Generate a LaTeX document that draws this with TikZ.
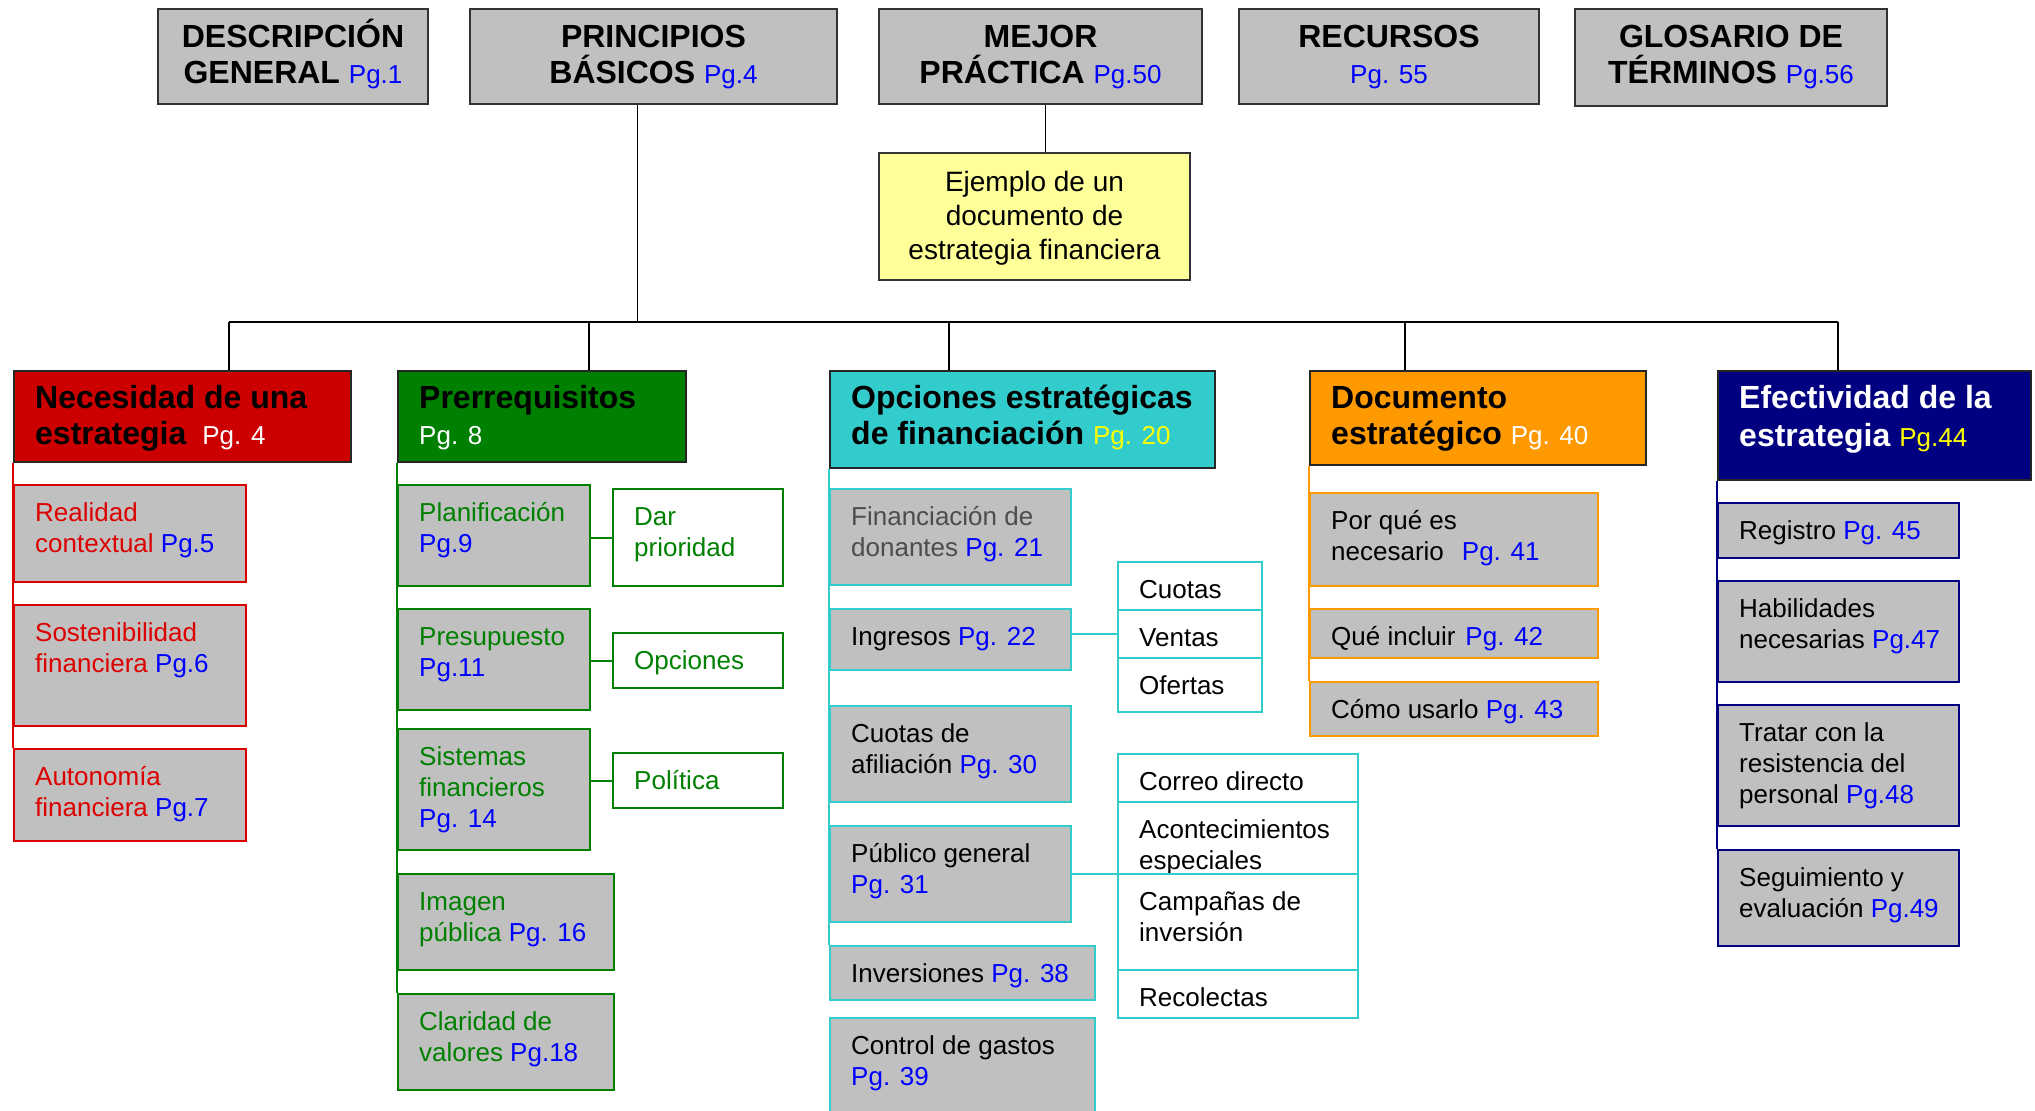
\documentclass[tikz,border=0pt]{standalone}
\usepackage{fontspec}
\setmainfont{Liberation Sans}

\definecolor{boxgray}{HTML}{C0C0C0}
\definecolor{hred}{HTML}{CC0000}
\definecolor{sred}{HTML}{DD0000}
\definecolor{hgreen}{HTML}{008000}
\definecolor{hcyan}{HTML}{33CCCC}
\definecolor{horange}{HTML}{FF9900}
\definecolor{hnavy}{HTML}{000080}
\definecolor{pgblue}{HTML}{0000FF}
\definecolor{pgyellow}{HTML}{FFFF00}
\definecolor{lightyel}{HTML}{FFFF99}
\definecolor{dgray}{HTML}{4D4D4D}

\newcommand\fstrut{\rule{0pt}{0.96em}}
\newcommand\pg[1]{{\color{pgblue}#1}}
\newcommand\hpg[2]{{\mdseries\fontsize{26bp}{31bp}\selectfont\color{#1}#2}}

\tikzset{
  conn/.style={line width=1.6bp, black},
  spine/.style={line width=2bp, draw=#1},
  topbox/.style={draw=black!80, line width=2bp, fill=boxgray, anchor=north west, minimum height=95bp},
  toptxt/.style={anchor=north, align=center, inner ysep=9bp, font={\fontsize{32bp}{35.5bp}\selectfont\bfseries}},
  headbox/.style={draw=black!85, line width=2bp, anchor=north west},
  headtxt/.style={anchor=north west, align=left, inner xsep=22bp, inner ysep=8bp, font={\fontsize{32bp}{35.5bp}\selectfont\bfseries}},
  subbox/.style={draw=#1, line width=2bp, fill=boxgray, anchor=north west},
  cellbox/.style={draw=#1, line width=2bp, fill=white, anchor=north west},
  subtxt/.style={anchor=north west, align=left, inner xsep=22bp, inner ysep=12.5bp, font={\fontsize{26bp}{31bp}\selectfont}}
}

\begin{document}
\begin{tikzpicture}[x=1bp, y=-1bp]
  \useasboundingbox (0,0) rectangle (2035,1110);

  % top row
  \node[topbox, minimum width=270bp, label={[toptxt]north:{\fstrut DESCRIPCIÓN\\GENERAL \hpg{pgblue}{Pg.1}}}] (desc) at (157,8) {};
  \node[topbox, minimum width=367bp, label={[toptxt]north:{\fstrut PRINCIPIOS\\BÁSICOS \hpg{pgblue}{Pg.4}}}] (prin) at (469,8) {};
  \node[topbox, minimum width=323bp, label={[toptxt]north:{\fstrut MEJOR\\PRÁCTICA \hpg{pgblue}{Pg.50}}}] (mejor) at (878,8) {};
  \node[topbox, minimum width=300bp, label={[toptxt]north:{\fstrut RECURSOS\\\hpg{pgblue}{Pg. 55}}}] (recur) at (1238,8) {};
  \node[topbox, minimum width=312bp, minimum height=97bp, label={[toptxt]north:{\fstrut GLOSARIO DE\\TÉRMINOS \hpg{pgblue}{Pg.56}}}] (glos) at (1574,8) {};

  \node[draw=black!80, line width=2bp, fill=lightyel, anchor=north west, minimum width=311bp, minimum height=127bp,
    label={[anchor=north, align=center, inner ysep=12bp, font={\fontsize{28bp}{34bp}\selectfont}]north:{\fstrut Ejemplo de un\\documento de\\estrategia financiera}}] (yel) at (878,152) {};
  \draw[conn] ([xshift=5bp]mejor.south) -- ([xshift=5bp]mejor.south |- yel.north);

  % headers
  \node[headbox, fill=hred, minimum width=337bp, minimum height=91bp,
    label={[headtxt]north west:{\fstrut Necesidad de una\\estrategia\hspace{16bp}\hpg{white}{Pg. 4}}}] (red) at (13,370) {};
  \node[headbox, fill=hgreen, minimum width=288bp, minimum height=91bp,
    label={[headtxt]north west:{\fstrut Prerrequisitos\\\hpg{white}{Pg. 8}}}] (grn) at (397,370) {};
  \node[headbox, fill=hcyan, minimum width=385bp, minimum height=97bp,
    label={[headtxt]north west:{\fstrut Opciones estratégicas\\de financiación \hpg{pgyellow}{Pg. 20}}}] (cyn) at (829,370) {};
  \node[headbox, fill=horange, minimum width=336bp, minimum height=94bp,
    label={[headtxt]north west:{\fstrut Documento\\estratégico \hpg{white}{Pg. 40}}}] (org) at (1309,370) {};
  \node[headbox, fill=hnavy, minimum width=313bp, minimum height=109bp,
    label={[headtxt, text=white, font={\fontsize{32bp}{38bp}\selectfont\bfseries}]north west:{\fstrut Efectividad de la\\estrategia \hpg{pgyellow}{Pg.44}}}] (nav) at (1717,370) {};

  % bar
  \coordinate (bar1) at (229,322);
  \coordinate (bar2) at (589,322);
  \coordinate (bar3) at (949,322);
  \coordinate (bar4) at (1405,322);
  \coordinate (bar5) at (1838,322);
  \draw[conn] ([xshift=-16bp]prin.south) -- ([xshift=-16bp]prin.south |- bar1);
  \draw[conn] (bar1) -- (bar5);
  \foreach \c/\nm in {bar1/red, bar2/grn, bar3/cyn, bar4/org, bar5/nav}
    \draw[conn] (\c) -- (\c |- \nm.north);

  % red column
  \foreach \nm/\yy/\hh/\lbl in {real/484/97/{Realidad\\contextual \pg{Pg.5}},
      sost/604/121/{Sostenibilidad\\financiera \pg{Pg.6}},
      auto/748/92/{Autonomía\\financiera \pg{Pg.7}}}
    \node[subbox=sred, minimum width=232bp, minimum height=\hh bp,
      label={[subtxt, text=sred]north west:{\fstrut\lbl}}] (\nm) at (13,\yy) {};
  \draw[spine=sred] (red.south west) -- (auto.north west);

  % green column
  \foreach \nm/\yy/\ww/\hh/\lbl in {plan/484/192/101/{Planificación\\\pg{Pg.9}},
      pres/608/192/101/{Presupuesto\\\pg{Pg.11}},
      sist/728/192/121/{Sistemas\\financieros\\\pg{Pg. 14}},
      img/873/216/96/{Imagen\\pública \pg{Pg. 16}},
      clar/993/216/96/{Claridad de\\valores \pg{Pg.18}}}
    \node[subbox=hgreen, minimum width=\ww bp, minimum height=\hh bp,
      label={[subtxt, text=hgreen]north west:{\fstrut\lbl}}] (\nm) at (397,\yy) {};
  \foreach \nm/\yy/\hh/\lbl in {dar/488/97/{Dar\\prioridad}, opc/632/55/{Opciones}, pol/752/55/{Política}}
    \node[cellbox=hgreen, minimum width=170bp, minimum height=\hh bp,
      label={[subtxt, text=hgreen]north west:{\fstrut\lbl}}] (\nm) at (612,\yy) {};
  \draw[spine=hgreen] (grn.south west) -- (clar.north west);
  \draw[spine=hgreen] (dar.west) -- (dar.west -| plan.east);
  \draw[spine=hgreen] (opc.west) -- (opc.west -| pres.east);
  \draw[spine=hgreen] (pol.west) -- (pol.west -| sist.east);

  % cyan column
  \node[subbox=hcyan, minimum width=241bp, minimum height=96bp,
    label={[subtxt, text=dgray]north west:{\fstrut Financiación de\\donantes \pg{Pg. 21}}}] (fin) at (829,488) {};
  \foreach \nm/\yy/\ww/\hh/\lbl in {ing/608/241/61/{Ingresos \pg{Pg. 22}},
      cuaf/705/241/96/{Cuotas de\\afiliación \pg{Pg. 30}},
      pub/825/241/96/{Público general\\\pg{Pg. 31}},
      inv/945/265/54/{Inversiones \pg{Pg. 38}},
      ctrl/1017/265/112/{Control de gastos\\\pg{Pg. 39}}}
    \node[subbox=hcyan, minimum width=\ww bp, minimum height=\hh bp,
      label={[subtxt]north west:{\fstrut\lbl}}] (\nm) at (829,\yy) {};
  \foreach \nm/\yy/\hh/\lbl in {cuo/560.5/48/{Cuotas}, ven/608.5/48/{Ventas}, ofe/656.5/54/{Ofertas}}
    \node[cellbox=hcyan, minimum width=144bp, minimum height=\hh bp,
      label={[subtxt]north west:{\fstrut\lbl}}] (\nm) at (1117,\yy) {};
  \foreach \nm/\yy/\hh/\lbl in {cor/753/48/{Correo directo}, aco/801/72/{Acontecimientos\\especiales},
      cam/873/96/{Campañas de\\inversión}, rec/969/48/{Recolectas}}
    \node[cellbox=hcyan, minimum width=240bp, minimum height=\hh bp,
      label={[subtxt]north west:{\fstrut\lbl}}] (\nm) at (1117,\yy) {};
  \draw[spine=hcyan] (cyn.south west) -- (inv.north west);
  \draw[spine=hcyan] (ven.west) -- (ven.west -| ing.east);
  \draw[spine=hcyan] (pub.east) -- (pub.east -| cam.west);

  % orange column
  \foreach \nm/\yy/\hh/\lbl in {por/492/93/{Por qué es\\necesario\hspace{18bp}\pg{Pg. 41}},
      que/608/49/{Qué incluir\hspace{10bp}\pg{Pg. 42}},
      como/681/54/{Cómo usarlo \pg{Pg. 43}}}
    \node[subbox=horange, minimum width=288bp, minimum height=\hh bp,
      label={[subtxt]north west:{\fstrut\lbl}}] (\nm) at (1309,\yy) {};
  \draw[spine=horange] (org.south west) -- (como.north west);

  % navy column
  \foreach \nm/\yy/\hh/\lbl in {reg/502/55/{Registro \pg{Pg. 45}},
      hab/580/101/{Habilidades\\necesarias \pg{Pg.47}},
      trat/704/121/{Tratar con la\\resistencia del\\personal \pg{Pg.48}},
      seg/849/96/{Seguimiento y\\evaluación \pg{Pg.49}}}
    \node[subbox=hnavy, minimum width=241bp, minimum height=\hh bp,
      label={[subtxt]north west:{\fstrut\lbl}}] (\nm) at (1717,\yy) {};
  \draw[spine=hnavy] (nav.south west) -- (seg.north west);
\end{tikzpicture}
\end{document}
